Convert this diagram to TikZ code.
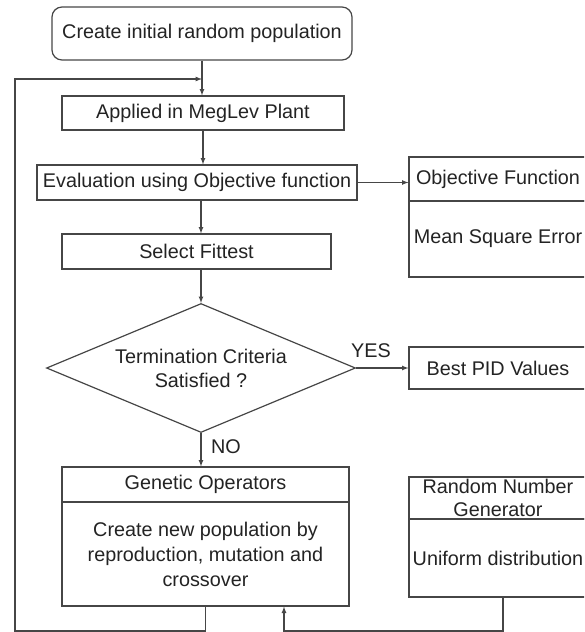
\documentclass[tikz,border=0pt]{standalone}
\usepackage{fontspec}
\setmainfont{Liberation Sans}
\usetikzlibrary{shapes.geometric}
\definecolor{lgray}{RGB}{70,70,70}
\definecolor{tgray}{RGB}{35,35,35}
\tikzset{
  blk/.style={draw=lgray, line width=1.2pt, inner sep=0pt, align=center, text=tgray},
  lnk/.style={draw=lgray, line width=1.2pt},
  lbl/.style={text=tgray, inner sep=0pt},
}
\begin{document}
\begin{tikzpicture}[x=1pt,y=-1pt,>=latex,font=\fontsize{19.8}{24}\selectfont]
\useasboundingbox (0,0) rectangle (584,632);
\clip (0,0) rectangle (584,632);
% main column
\node[blk, rounded corners=10pt, minimum width=300pt, minimum height=53pt] (init) at (202,33.5) {Create initial random population};
\node[blk, minimum width=282pt, minimum height=34pt] (plant) at (203,113) {Applied in MegLev Plant};
\node[blk, minimum width=320pt, minimum height=35pt] (eval) at (197,182.5) {Evaluation using Objective function};
\node[blk, minimum width=269pt, minimum height=35pt] (fittest) at (196.5,251.5) {Select Fittest};
\node[blk, shape=diamond, aspect=2.4, minimum width=309pt, minimum height=129pt] (crit) at (201,368) {Termination Criteria\\Satisfied ?};
\node[blk, minimum width=287pt, minimum height=35pt] (genhead) at (205.5,484.5) {Genetic Operators};
\node[blk, minimum width=287pt, minimum height=104pt, font=\fontsize{19.8}{25}\selectfont] (genbody) at (205.5,554) {Create new population by\\reproduction, mutation and\\crossover};
% right column
\node[blk, minimum width=178pt, minimum height=44pt] (objhead) at (498,179) {Objective Function};
\node[blk, minimum width=178pt, minimum height=76pt] (objbody) at (498,239) {Mean Square Error};
\node[blk, minimum width=178pt, minimum height=42pt] (best) at (498,368) {Best PID Values};
\node[blk, minimum width=178pt, minimum height=42pt, font=\fontsize{19.8}{23}\selectfont] (randhead) at (498,498) {Random Number\\Generator};
\node[blk, minimum width=178pt, minimum height=78pt] (randbody) at (498,558) {Uniform distribution};
% labels
\node[lbl] (yes) at (371,351) {YES};
\node[lbl] (no) at (226,447) {NO};
% helper points
\coordinate (merge) at (202,79);
\coordinate (loopcorner) at (15,631);
\coordinate (randcorner) at (284,631);
% connectors
\draw[lnk,->] (init.south) -- (init.south |- plant.north);
\draw[lnk,->] (plant.south) -- (plant.south |- eval.north);
\draw[lnk,->] (eval.east) -- (eval.east -| objhead.west);
\draw[lnk,->] (eval.south -| crit.north) -- (crit.north |- fittest.north);
\draw[lnk,->] (crit.north |- fittest.south) -- (crit.north);
\draw[lnk,->] (crit.east) -- (best.west);
\draw[lnk,->] (crit.south) -- (crit.south |- genhead.north);
\draw[lnk,->] (genbody.south) |- (loopcorner) |- (merge);
\draw[lnk,->] ([xshift=5pt]randbody.south) |- (randcorner) -- (randcorner |- genbody.south);
\end{tikzpicture}
\end{document}
